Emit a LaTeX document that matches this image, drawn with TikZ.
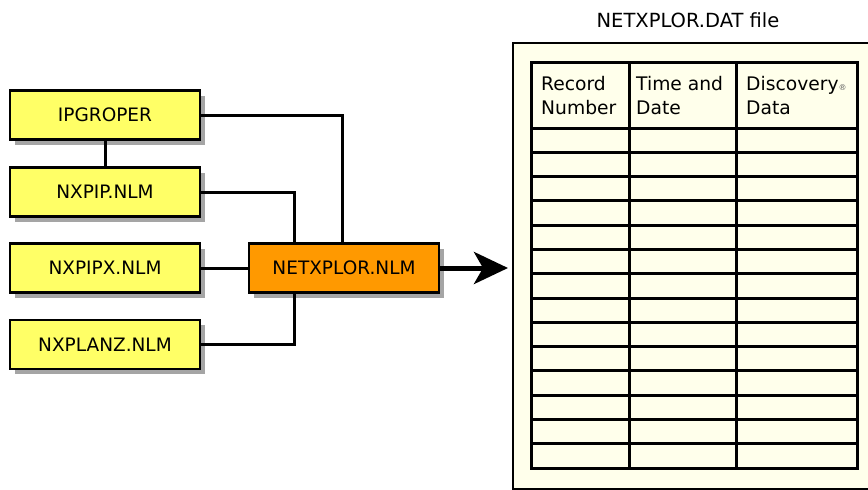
\documentclass[tikz,border=0pt]{standalone}
\usepackage{fontspec}
\setmainfont{DejaVu Sans}
\usetikzlibrary{arrows.meta,shadows}
\definecolor{boxyellow}{RGB}{255,255,102}
\definecolor{boxorange}{RGB}{255,153,0}
\definecolor{cream}{RGB}{255,255,235}
\definecolor{shadowgray}{RGB}{165,165,165}
\tikzset{
  modbox/.style={draw, line width=2.5pt, fill=boxyellow, minimum width=190pt, minimum height=49pt,
    inner sep=0pt, font=\fontsize{18.5}{22}\selectfont,
    drop shadow={shadow xshift=5pt, shadow yshift=-5pt, fill=shadowgray, opacity=1}},
  mainbox/.style={modbox, fill=boxorange},
  conn/.style={line width=3pt},
  tline/.style={line width=3pt},
  hdr/.style={anchor=north west, align=left, inner sep=0pt, font=\fontsize{18.7}{24.5}\selectfont}
}
\begin{document}
\begin{tikzpicture}[x=1pt,y=-1pt]
\useasboundingbox (0,0) rectangle (868,490);
% data file
\node[inner sep=0pt, font=\fontsize{19.5}{23}\selectfont] (title) at (688,20) {NETXPLOR.DAT file};
\draw[line width=2.5pt, fill=cream] (513,43) rectangle (885,489);
\draw[tline, fill=cream] (531,62) rectangle (857,468);
\draw[tline] (531,128) -- (857,128);
\foreach \i in {1,...,13}{
  \draw[tline] (531,{128+\i*24.2857}) -- (857,{128+\i*24.2857});
}
\draw[tline] (629,62) -- (629,468);
\draw[tline] (736,62) -- (736,468);
\node[hdr] (h1) at (541,76) {Record\\Number};
\node[hdr] (h2) at (636,76) {Time and\\Date};
\node[hdr] (h3) at (746,76) {Discovery{\fontsize{8}{8}\selectfont\color{gray!70!black}®}\\Data};
% modules
\node[modbox] (ip) at (105,115) {IPGROPER};
\node[modbox] (nxpip) at (105,192) {NXPIP.NLM};
\node[modbox] (nxpipx) at (105,268) {NXPIPX.NLM};
\node[modbox] (nxplanz) at (105,344.5) {NXPLANZ.NLM};
\node[mainbox] (netx) at (344,268) {NETXPLOR.NLM};
% connectors
\draw[conn] (ip.south) -- (nxpip.north);
\draw[conn] (ip.east) -| ([xshift=-2pt]netx.north);
\draw[conn] (nxpip.east) -| ([xshift=-50pt]netx.north);
\draw[conn] (nxpipx.east) -- (netx.west);
\draw[conn] (nxplanz.east) -| ([xshift=-50pt]netx.south);
\coordinate (tip) at (508,268);
\draw[line width=5pt, -{Stealth[length=34pt, width=32pt, inset=9pt]}] (netx.east) -- (tip);
\end{tikzpicture}
\end{document}
